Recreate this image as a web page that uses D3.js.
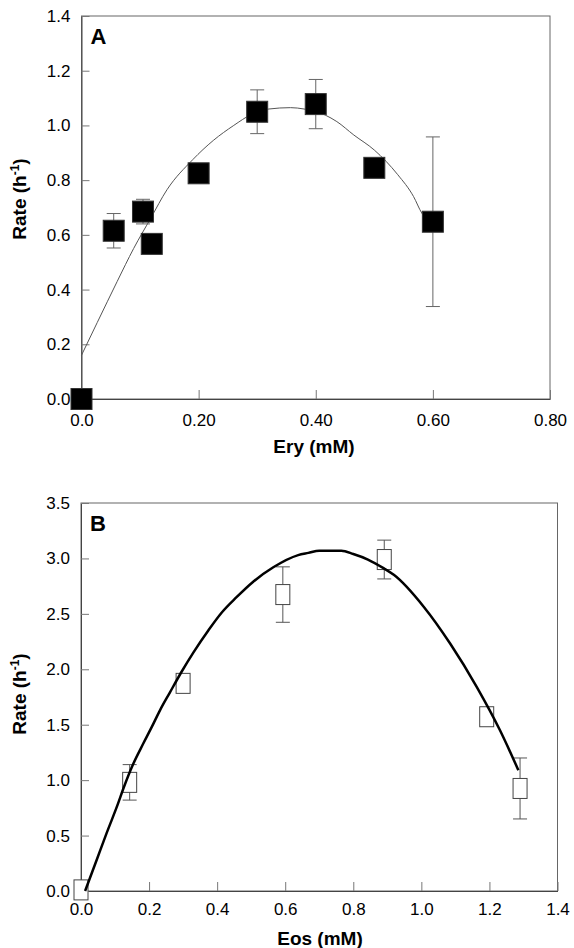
<!DOCTYPE html>
<html>
<head>
<meta charset="utf-8">
<script src="https://cdn.jsdelivr.net/npm/d3@7"></script>
<style>
  body { margin: 0; background: #fff; }
  text { font-family: Arial, "Liberation Sans", sans-serif; }
</style>
</head>
<body>
<script>
// Panel A - Ery
let eryConc = [0.0, 0.055, 0.105, 0.12, 0.20, 0.30, 0.40, 0.50, 0.60];
let eryRate = [0.0, 0.615, 0.685, 0.567, 0.825, 1.05, 1.078, 0.845, 0.648];
let eryErr  = [0, 0.063, 0.045, 0, 0, 0.08, 0.09, 0, 0.31];
let eryFitX = [0, 0.027, 0.061, 0.089, 0.118, 0.146, 0.19, 0.225, 0.26, 0.29, 0.32, 0.357, 0.38, 0.416, 0.436, 0.465, 0.50, 0.54, 0.567, 0.581, 0.60];
let eryFitY = [0.16, 0.28, 0.43, 0.55, 0.66, 0.765, 0.875, 0.945, 1.0, 1.04, 1.06, 1.065, 1.06, 1.038, 1.014, 0.965, 0.91, 0.82, 0.74, 0.68, 0.64];
let eryXTicks = [0, 0.2, 0.4, 0.6, 0.8];
let eryXLabels = ["0.0", "0.20", "0.40", "0.60", "0.80"];
let eryYTicks = [0, 0.2, 0.4, 0.6, 0.8, 1.0, 1.2, 1.4];

// Panel B - Eos
let eosConc = [0.0, 0.143, 0.30, 0.593, 0.891, 1.192, 1.29];
let eosRate = [0.01, 0.98, 1.873, 2.674, 2.99, 1.572, 0.925];
let eosErr  = [0, 0.16, 0, 0.25, 0.175, 0, 0.275];
let eosFitX = [0.012, 0.046, 0.075, 0.109, 0.124, 0.154, 0.183, 0.208, 0.232, 0.261, 0.296, 0.33, 0.374, 0.413, 0.457, 0.506, 0.565, 0.638, 0.668, 0.70, 0.765, 0.80, 0.843, 0.89, 0.92, 1.008, 1.085, 1.163, 1.231, 1.285];
let eosFitY = [0.0, 0.28, 0.52, 0.79, 0.92, 1.15, 1.33, 1.48, 1.63, 1.79, 1.98, 2.15, 2.35, 2.51, 2.65, 2.79, 2.92, 3.03, 3.05, 3.07, 3.07, 3.04, 2.99, 2.91, 2.85, 2.56, 2.23, 1.84, 1.45, 1.09];
let eosXTicks = [0, 0.2, 0.4, 0.6, 0.8, 1.0, 1.2, 1.4];
let eosYTicks = [0, 0.5, 1.0, 1.5, 2.0, 2.5, 3.0, 3.5];

let svgWidth = 574;
let svgHeight = 948;

let svg = d3.select("body")
    .append("svg")
    .attr("width", svgWidth)
    .attr("height", svgHeight);

function drawPanel(opt) {
    let x = d3.scaleLinear().domain(opt.xDomain).range([opt.left, opt.right]);
    let y = d3.scaleLinear().domain(opt.yDomain).range([opt.bottom, opt.top]);
    let g = svg.append("g");

    // box
    g.append("rect")
        .attr("x", opt.left)
        .attr("y", opt.top)
        .attr("width", opt.right - opt.left)
        .attr("height", opt.bottom - opt.top)
        .attr("fill", "none")
        .attr("stroke", "#666")
        .attr("stroke-width", 1);

    let xAxis = d3.axisBottom(x)
        .tickValues(opt.xTicks)
        .tickFormat((d, i) => opt.xLabels[i])
        .tickSizeInner(-9)
        .tickSizeOuter(0)
        .tickPadding(opt.xPad);

    let yAxis = d3.axisLeft(y)
        .tickValues(opt.yTicks)
        .tickFormat(d3.format(".1f"))
        .tickSizeInner(-8)
        .tickSizeOuter(0)
        .tickPadding(11);

    let gx = g.append("g")
        .attr("transform", `translate(0, ${opt.bottom})`)
        .call(xAxis);
    let gy = g.append("g")
        .attr("transform", `translate(${opt.left}, 0)`)
        .call(yAxis);

    [gx, gy].forEach(a => {
        a.select(".domain").attr("stroke", "#444");
        a.selectAll(".tick line").attr("stroke", "#777");
        a.selectAll(".tick text")
            .attr("fill", "#000")
            .style("font-size", "17px")
            .style("font-family", "Arial, 'Liberation Sans', sans-serif");
    });

    let pts = opt.xs.map((d, i) => ({x: d, y: opt.ys[i], e: opt.errs[i]}));
    let fit = opt.fitX.map((d, i) => [d, opt.fitY[i]]);

    let line = d3.line()
        .x(d => x(d[0]))
        .y(d => y(d[1]))
        .curve(d3.curveMonotoneX);

    let drawFit = () => g.append("path")
        .datum(fit)
        .attr("d", line)
        .attr("fill", "none")
        .attr("stroke", opt.fitColor)
        .attr("stroke-width", opt.fitWidth);

    if (!opt.fitOnTop) drawFit();

    // error bars
    let eb = g.append("g")
        .selectAll("g")
        .data(pts.filter(d => d.e > 0))
        .join("g")
        .attr("stroke", opt.errColor)
        .attr("stroke-width", 1);
    eb.append("line")
        .attr("x1", d => x(d.x)).attr("x2", d => x(d.x))
        .attr("y1", d => y(d.y - d.e)).attr("y2", d => y(d.y + d.e));
    eb.append("line")
        .attr("x1", d => x(d.x) - opt.cap).attr("x2", d => x(d.x) + opt.cap)
        .attr("y1", d => y(d.y + d.e)).attr("y2", d => y(d.y + d.e));
    eb.append("line")
        .attr("x1", d => x(d.x) - opt.cap).attr("x2", d => x(d.x) + opt.cap)
        .attr("y1", d => y(d.y - d.e)).attr("y2", d => y(d.y - d.e));

    // markers
    g.append("g")
        .selectAll("rect")
        .data(pts)
        .join("rect")
        .attr("x", d => x(d.x) - opt.mw / 2)
        .attr("y", d => y(d.y) - opt.mh / 2)
        .attr("width", opt.mw)
        .attr("height", opt.mh)
        .attr("fill", opt.markFill)
        .attr("stroke", opt.markStroke)
        .attr("stroke-width", 1);

    if (opt.fitOnTop) drawFit();

    // panel letter
    g.append("text")
        .attr("x", opt.left + 9)
        .attr("y", opt.top + 28)
        .style("font-size", "22px")
        .style("font-weight", "bold")
        .text(opt.letter);

    // x title
    g.append("text")
        .attr("x", opt.xTitleX)
        .attr("y", opt.xTitleY)
        .attr("text-anchor", "middle")
        .style("font-size", "19px")
        .style("font-weight", "bold")
        .text(opt.xTitle);

    // y title
    let yt = g.append("text")
        .attr("transform", `translate(26, ${opt.yTitleY}) rotate(-90)`)
        .attr("text-anchor", "middle")
        .style("font-size", "19px")
        .style("font-weight", "bold");
    yt.append("tspan").text("Rate (h");
    yt.append("tspan").attr("dy", -7).style("font-size", "12px").text("-1");
    yt.append("tspan").attr("dy", 7).text(")");
}

drawPanel({
    letter: "A",
    left: 81.5, right: 550, top: 16, bottom: 399,
    xDomain: [0, 0.8], yDomain: [0, 1.4],
    xTicks: eryXTicks, xLabels: eryXLabels, yTicks: eryYTicks, xPad: 14.5,
    xs: eryConc, ys: eryRate, errs: eryErr,
    fitX: eryFitX, fitY: eryFitY,
    fitColor: "#555", fitWidth: 1, fitOnTop: false,
    errColor: "#666", cap: 7,
    mw: 21, mh: 21, markFill: "#000", markStroke: "#333",
    xTitle: "Ery (mM)", xTitleX: 314, xTitleY: 453, yTitleY: 199
});

drawPanel({
    letter: "B",
    left: 81, right: 557.5, top: 503, bottom: 891,
    xDomain: [0, 1.4], yDomain: [0, 3.5],
    xTicks: eosXTicks, xLabels: eosXTicks.map(d3.format(".1f")), yTicks: eosYTicks, xPad: 12,
    xs: eosConc, ys: eosRate, errs: eosErr,
    fitX: eosFitX, fitY: eosFitY,
    fitColor: "#000", fitWidth: 2.5, fitOnTop: true,
    errColor: "#555", cap: 7,
    mw: 14, mh: 20, markFill: "#fff", markStroke: "#444",
    xTitle: "Eos (mM)", xTitleX: 320, xTitleY: 945, yTitleY: 694
});
</script>
</body>
</html>
